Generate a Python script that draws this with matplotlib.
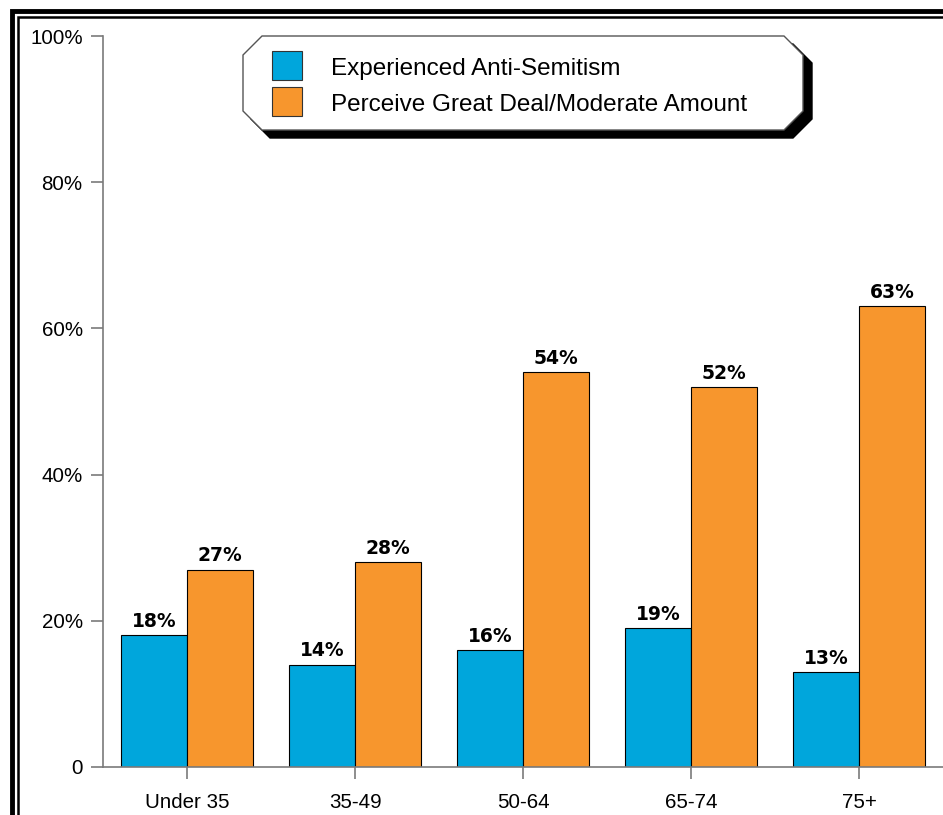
import numpy as np
import matplotlib.pyplot as plt
from matplotlib.patches import Polygon, Rectangle

categories = ["Under 35", "35-49", "50-64", "65-74", "75+"]
experienced = [18, 14, 16, 19, 13]
perceive = [27, 28, 54, 52, 63]
series_names = ["Experienced Anti-Semitism", "Perceive Great Deal/Moderate Amount"]
blue = "#00A6DC"
orange = "#F7962D"
axis_grey = "#7a7a7a"

W, H = 943, 815
fig = plt.figure(figsize=(W / 100, H / 100), dpi=100)
ax = fig.add_axes([103 / W, 1 - 767 / H, 1 - 103 / W, (767 - 36) / H])

x = np.arange(len(categories))
bw = 66 / 168
b1 = ax.bar(x - bw / 2, experienced, bw, color=blue, edgecolor="black", linewidth=0.8)
b2 = ax.bar(x + bw / 2, perceive, bw, color=orange, edgecolor="black", linewidth=0.8)

for bars, vals in [(b1, experienced), (b2, perceive)]:
    for r, v in zip(bars, vals):
        ax.annotate(f"{v}%", (r.get_x() + r.get_width() / 2, v), xytext=(0, 3),
                    textcoords="offset points", ha="center", va="bottom",
                    fontsize=13.5, fontweight="bold", family="DejaVu Sans")

ax.set_xlim(-0.5, 4.5)
ax.set_ylim(0, 100)
ax.set_yticks([0, 20, 40, 60, 80, 100])
ax.set_yticklabels(["0", "20%", "40%", "60%", "80%", "100%"])
ax.set_xticks(x)
ax.set_xticklabels(categories)
for s in ["top", "right"]:
    ax.spines[s].set_visible(False)
for s in ["left", "bottom"]:
    ax.spines[s].set_color(axis_grey)
    ax.spines[s].set_linewidth(1.2)
ax.tick_params(axis="y", length=8.6, color=axis_grey, width=1.2, pad=6, labelsize=14.8)
ax.tick_params(axis="x", length=8.6, color=axis_grey, width=1.2, pad=10, labelsize=14.8)
for lab in ax.get_xticklabels() + ax.get_yticklabels():
    lab.set_family("Liberation Sans")

# page frame (double line)
def px(xp, yp):
    return (xp / W, 1 - yp / H)

fig.add_artist(Rectangle(px(12, 900), (1000) / W, (900 - 11) / H, fill=False,
                         edgecolor="black", linewidth=3.5, transform=fig.transFigure))
fig.add_artist(Rectangle(px(18, 900), (1000) / W, (900 - 17) / H, fill=False,
                         edgecolor="black", linewidth=1.8, transform=fig.transFigure))

# octagon legend box with shadow
def octagon(x0, y0, x1, y1, c):
    pts = [(x0 + c, y0), (x1 - c, y0), (x1, y0 + c), (x1, y1 - c),
           (x1 - c, y1), (x0 + c, y1), (x0, y1 - c), (x0, y0 + c)]
    return [px(a, b) for a, b in pts]

fig.add_artist(Polygon(octagon(251, 44, 812, 138, 19), closed=True, facecolor="black",
                       edgecolor="black", transform=fig.transFigure))
fig.add_artist(Polygon(octagon(243, 36, 803, 130, 19), closed=True, facecolor="white",
                       edgecolor="#555555", linewidth=1.0, transform=fig.transFigure))

for i, (name, col) in enumerate(zip(series_names, [blue, orange])):
    y_top = 51 + i * 36
    fig.add_artist(Rectangle(px(272, y_top + 29), 30 / W, 29 / H, facecolor=col,
                             edgecolor="#333333", linewidth=0.8, transform=fig.transFigure))
    fig.text(331 / W, 1 - (y_top + 18) / H, name, ha="left", va="center",
             fontsize=17.5, family="Liberation Sans")

fig.savefig("out.png", dpi=100)
